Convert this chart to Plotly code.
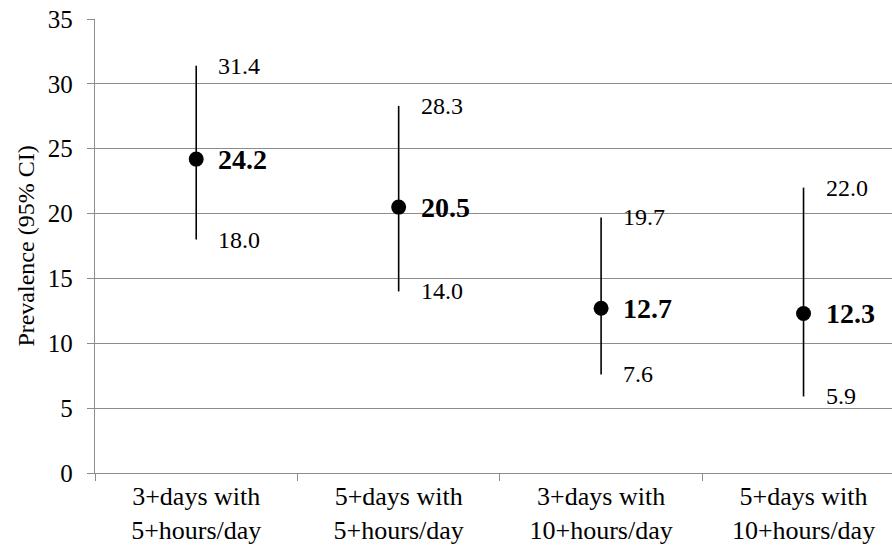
import plotly.graph_objects as go

# Prevalence estimates with 95% confidence intervals
categories = ["3+days with<br>5+hours/day", "5+days with<br>5+hours/day",
              "3+days with<br>10+hours/day", "5+days with<br>10+hours/day"]
prevalence = [24.2, 20.5, 12.7, 12.3]
ci_upper = [31.4, 28.3, 19.7, 22.0]
ci_lower = [18.0, 14.0, 7.6, 5.9]

FONT = "Liberation Serif, Times New Roman, serif"
GRID = "#8c8c8c"

fig = go.Figure()
fig.add_trace(go.Scatter(
    x=categories, y=prevalence, mode="markers",
    marker=dict(color="black", size=15),
    error_y=dict(type="data", symmetric=False,
                 array=[u - p for u, p in zip(ci_upper, prevalence)],
                 arrayminus=[p - l for p, l in zip(prevalence, ci_lower)],
                 color="black", thickness=1.6, width=0),
    showlegend=False, hoverinfo="skip",
))

annotations = []
for c, p, u, l in zip(categories, prevalence, ci_upper, ci_lower):
    annotations.append(dict(x=c, y=u, text=f"{u:.1f}", xanchor="left", yanchor="middle",
                            xshift=20, showarrow=False, font=dict(family=FONT, size=24, color="black")))
    annotations.append(dict(x=c, y=l, text=f"{l:.1f}", xanchor="left", yanchor="middle",
                            xshift=20, showarrow=False, font=dict(family=FONT, size=24, color="black")))
    annotations.append(dict(x=c, y=p, text=f"<b>{p:.1f}</b>", xanchor="left", yanchor="middle",
                            xshift=20, showarrow=False, font=dict(family=FONT, size=28, color="black")))

fig.update_layout(
    width=892, height=554,
    margin=dict(l=95, r=0, t=19, b=81),
    paper_bgcolor="white", plot_bgcolor="white",
    font=dict(family=FONT, size=25, color="black"),
    annotations=annotations,
    xaxis=dict(type="category", range=[-0.5, 3.437],
               showline=True, linecolor=GRID, linewidth=1.3,
               showgrid=False, ticks="outside", tickson="boundaries",
               ticklen=7, tickcolor=GRID, tickwidth=1.3,
               tickfont=dict(family=FONT, size=26)),
    yaxis=dict(range=[0, 35], dtick=5, tick0=0,
               showline=True, linecolor=GRID, linewidth=1.3,
               showgrid=True, gridcolor=GRID, gridwidth=1.2,
               zeroline=False,
               ticks="outside", ticklen=7, tickcolor=GRID, tickwidth=1.3,
               ticklabelstandoff=9,
               tickfont=dict(family=FONT, size=25),
               title=dict(text="Prevalence (95% CI)", font=dict(family=FONT, size=24), standoff=6)),
)

fig.write_html("out.html")
